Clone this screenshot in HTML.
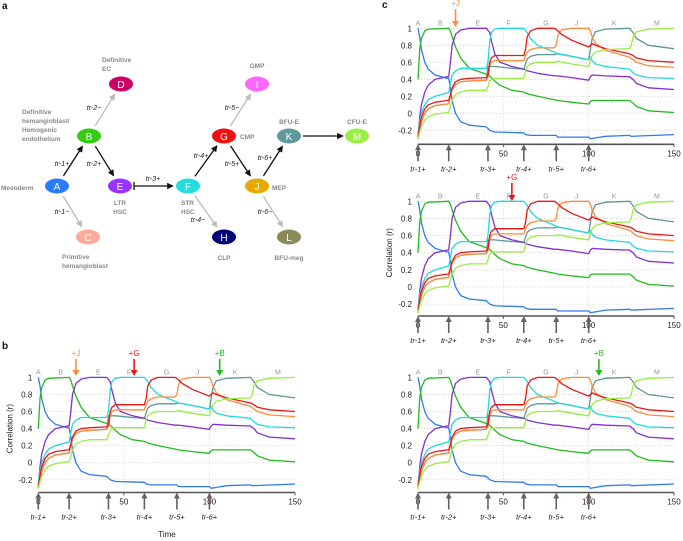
<!DOCTYPE html>
<html><head><meta charset="utf-8"><style>
body{margin:0;background:#fff;}
svg{display:block;font-family:"Liberation Sans",sans-serif;}
</style></head><body>
<svg id="fig" width="683" height="541" viewBox="0 0 683 541">
<defs>
<marker id="ah" viewBox="0 0 10 10" refX="9" refY="5" markerWidth="5" markerHeight="5" orient="auto"><path d="M0,0L10,5L0,10z" fill="#111"/></marker>
<marker id="ahg" viewBox="0 0 10 10" refX="9" refY="5" markerWidth="5" markerHeight="5" orient="auto"><path d="M0,0L10,5L0,10z" fill="#bbb"/></marker>
</defs>
<g id="diagram"></g>
<g id="charts"></g>
</svg>
<script>
// ---- chart data (time points and correlation values per cell type) ----
const tA=[0,1,2,4,6,10,17,18,19,20,22,25,30,40,41,42,45,62,63,66,81,82,100,101,104,110,124,125,150];
const vA=[1,0.9,0.75,0.6,0.52,0.45,0.41,0.41,0.3,0.15,0.0,-0.1,-0.14,-0.16,-0.18,-0.2,-0.22,-0.23,-0.25,-0.26,-0.26,-0.28,-0.28,-0.3,-0.29,-0.27,-0.26,-0.27,-0.25];
const tB=[0,1,2,4,6,18,19,20,22,25,30,40,42,45,48,55,62,64,70,80,82,90,100,101,102,124,126,128,135,150];
const vB=[0.4,0.75,0.88,0.97,0.99,1,0.97,0.9,0.78,0.65,0.53,0.46,0.44,0.38,0.33,0.27,0.25,0.23,0.2,0.16,0.15,0.13,0.11,0.14,0.15,0.15,0.12,0.08,0.03,0.01];
const tE=[0,1,2,4,6,10,17,18,19,20,22,25,30,40,42,43,45,48,55,62,64,70,80,82,90,100,101,102,110,124,126,128,135,150];
const vE=[-0.28,-0.05,0.1,0.25,0.33,0.4,0.43,0.43,0.6,0.8,0.93,0.98,1,1,0.95,0.85,0.7,0.6,0.55,0.52,0.5,0.47,0.44,0.44,0.42,0.39,0.43,0.45,0.44,0.43,0.4,0.35,0.3,0.28];
const tF=[0,1,2,4,6,10,17,18,19,20,22,25,40,41,42,43,45,48,62,64,66,70,80,82,90,100,101,102,104,110,124,126,128,135,150];
const vF=[-0.25,-0.1,0,0.1,0.16,0.2,0.24,0.24,0.35,0.45,0.5,0.53,0.53,0.6,0.85,0.95,0.99,1,1,0.95,0.88,0.8,0.72,0.7,0.67,0.63,0.66,0.62,0.58,0.55,0.52,0.48,0.45,0.42,0.41];
const tG=[0,1,2,4,6,10,17,18,19,20,22,25,30,40,41,42,43,45,62,63,64,66,70,80,82,84,90,100,101,102,104,110,124,126,128,135,150];
const vG=[-0.27,-0.15,-0.05,0.05,0.1,0.13,0.15,0.15,0.22,0.3,0.37,0.4,0.41,0.42,0.45,0.6,0.65,0.68,0.68,0.75,0.9,0.97,1,1,0.97,0.93,0.86,0.78,0.8,0.82,0.8,0.76,0.7,0.68,0.65,0.62,0.6];
const tJ=[0,1,2,4,6,10,17,18,19,20,22,25,30,40,41,42,43,45,62,63,64,66,70,80,81,82,84,90,100,101,102,104,110,124,126,128,135,150];
const vJ=[-0.3,-0.18,-0.1,0,0.05,0.09,0.11,0.11,0.2,0.28,0.34,0.37,0.38,0.39,0.42,0.55,0.6,0.62,0.62,0.68,0.72,0.75,0.77,0.77,0.8,0.92,0.98,1,1,0.97,0.9,0.82,0.74,0.66,0.63,0.6,0.56,0.54];
const tK=[0,1,2,4,6,10,17,18,19,20,22,25,30,40,41,45,55,62,63,64,66,70,80,82,90,100,101,102,104,110,124,126,128,135,150];
const vK=[-0.3,-0.18,-0.1,0,0.05,0.09,0.11,0.11,0.2,0.28,0.34,0.37,0.38,0.39,0.55,0.55,0.53,0.52,0.58,0.64,0.67,0.69,0.69,0.7,0.67,0.63,0.75,0.88,0.96,0.99,1,0.95,0.88,0.8,0.76];
const tM=[0,1,2,4,6,10,17,18,19,20,22,25,30,40,41,42,43,45,62,63,64,66,70,80,82,90,100,101,102,104,110,124,125,126,128,135,150];
const vM=[-0.3,-0.22,-0.16,-0.08,-0.04,-0.01,0.01,0.01,0.08,0.15,0.22,0.25,0.27,0.27,0.32,0.38,0.4,0.41,0.41,0.5,0.55,0.58,0.6,0.6,0.61,0.58,0.55,0.62,0.68,0.72,0.75,0.76,0.8,0.9,0.96,0.99,1];
const xTicks=[0,50,100,150];
const yTicks=[1,0.8,0.6,0.4,0.2,0,-0.2];
const yTickLabels=["1","0.8","0.6","0.4","0.2","0","-0.2"];
const trTimes=[0,18,41,62,81,100];
const trLabels=["tr-1+","tr-2+","tr-3+","tr-4+","tr-5+","tr-6+"];
const stageLetters=["A","B","E","F","G","J","K","M"];
const stageTimes=[0,13,35,53,75,93,115,140];

const NS="http://www.w3.org/2000/svg";
function mk(tag,attrs,parent,txt){const e=document.createElementNS(NS,tag);for(const k in attrs)e.setAttribute(k,attrs[k]);if(txt!==undefined)e.textContent=txt;parent.appendChild(e);return e;}

const series=[
 {name:"series-k",t:tK,v:vK,c:"#5f9696"},
 {name:"series-a",t:tA,v:vA,c:"#2f7cf0"},
 {name:"series-b",t:tB,v:vB,c:"#22bb22"},
 {name:"series-e",t:tE,v:vE,c:"#8430d0"},
 {name:"series-f",t:tF,v:vF,c:"#22d8e0"},
 {name:"series-j",t:tJ,v:vJ,c:"#ff8c3a"},
 {name:"series-g",t:tG,v:vG,c:"#ee1515"},
 {name:"series-m",t:tM,v:vM,c:"#99ee44"}
];

function drawChart(cfg){
 const g=mk("g",{},document.getElementById("charts"));
 
 
 const xs=t=>cfg.x0+(cfg.x1-cfg.x0)*t/150;
 const ys=v=>cfg.yz-v*cfg.ppu;
 yTicks.forEach((v,i)=>{
  const l=mk("line",{x1:cfg.x0,x2:cfg.x1,y1:ys(v),y2:ys(v),stroke:"#ccc","stroke-dasharray":"1,2","stroke-width":0.8},g);
  
  
  const tx=mk("text",{x:cfg.x0-6,y:ys(v)+3,"font-size":8,"text-anchor":"end",fill:"#222"},g,yTickLabels[i]);
  
  
 });
 [50,100].forEach(t=>{mk("line",{x1:xs(t),x2:xs(t),y1:ys(1.02),y2:cfg.axisY,stroke:"#ccc","stroke-dasharray":"1,2","stroke-width":0.8},g);});
 stageLetters.forEach((s,i)=>{
  const tx=mk("text",{x:xs(stageTimes[i]),y:ys(1)-3,"font-size":7,"text-anchor":"middle",fill:"#999"},g,s);
  
  
 });
 series.forEach(s=>{
  let d="";s.t.forEach((t,i)=>{d+=(i?"L":"M")+xs(t).toFixed(1)+","+ys(s.v[i]).toFixed(1);});
  const p=mk("path",{d:d,fill:"none",stroke:s.c,"stroke-width":1.3,"stroke-linejoin":"round"},g);
  
  
 });
 const ax=mk("line",{x1:cfg.x0,x2:cfg.x1,y1:cfg.axisY,y2:cfg.axisY,stroke:"#555","stroke-width":1.6},g);
 
 
 xTicks.forEach(t=>{
  mk("line",{x1:xs(t),x2:xs(t),y1:cfg.axisY,y2:cfg.axisY+3,stroke:"#555"},g);
  const tx=mk("text",{x:xs(t),y:cfg.axisY+12,"font-size":8,"text-anchor":"middle",fill:"#222"},g,String(t));
  
  
 });
 trTimes.forEach((t,i)=>{
  const x=xs(t);
  mk("line",{x1:x,x2:x,y1:cfg.axisY+17,y2:cfg.axisY+4,stroke:"#6b5f5f","stroke-width":1.6},g);
  mk("path",{d:`M${x-3},${cfg.axisY+6}L${x},${cfg.axisY}L${x+3},${cfg.axisY+6}z`,fill:"#6b5f5f"},g);
  const tx=mk("text",{x:x,y:cfg.axisY+27,"font-size":7.5,"text-anchor":"middle","font-style":"italic",fill:"#222"},g,trLabels[i]);
  
  
 });
 if(cfg.ytitle){
  const tx=mk("text",{x:0,y:0,"font-size":8,"text-anchor":"middle",fill:"#222",transform:`translate(${cfg.x0-26},${ys(0.4)}) rotate(-90)`},g,"Correlation (r)");
  
  
 }
 (cfg.perturb||[]).forEach(p=>{
  const x=xs(p.t);
  const tx=mk("text",{x:x,y:p.ly,"font-size":8,"text-anchor":"middle",fill:p.c},g,p.label);
  
  
  mk("line",{x1:x,x2:x,y1:p.ly+3,y2:p.ay-5,stroke:p.c,"stroke-width":1.6},g);
  mk("path",{d:`M${x-3.5},${p.ay-6}L${x},${p.ay}L${x+3.5},${p.ay-6}z`,fill:p.c},g);
 });
}
drawChart({name:"chart-b",x0:38.3,x1:295,yz:462.7,ppu:85.3,axisY:492.5,ytitle:true,
 perturb:[{t:22,label:"+J",c:"#ff8c3a",ly:356,ay:376},{t:56,label:"+G",c:"#ee1515",ly:356,ay:376},{t:106,label:"+B",c:"#22bb22",ly:356,ay:376}]});
drawChart({name:"chart-c-top",x0:418,x1:674,yz:113.3,ppu:85,axisY:144.3,
 perturb:[{t:22,label:"+J",c:"#ff8c3a",ly:6,ay:27}]});
drawChart({name:"chart-c-middle",x0:418,x1:674,yz:287,ppu:85.7,axisY:316,ytitle:true,
 perturb:[{t:55,label:"+G",c:"#ee1515",ly:180,ay:201}]});
drawChart({name:"chart-c-bottom",x0:418,x1:674,yz:462.7,ppu:85.3,axisY:492.5,
 perturb:[{t:106,label:"+B",c:"#22bb22",ly:356,ay:376}]});

const fig=document.getElementById("fig");
[["a",2,9],["b",2,349],["c",382,8]].forEach(p=>{
 const tx=mk("text",{x:p[1],y:p[2],"font-size":10,"font-weight":"bold",fill:"#111"},fig,p[0]);
 
 
});
const tt=mk("text",{x:167,y:537,"font-size":8,"text-anchor":"middle",fill:"#222"},fig,"Time");



// ---- lineage diagram ----
const dg=document.getElementById("diagram");
const nodeIds=["A","B","C","D","E","F","G","H","I","J","K","L","M"];
const nodeX=[57,89,88,121,120,188,224,224,257,257,289,289,357];
const nodeY=[186,136,237,84,186,186,136,237,84,186,136,237,136];
const nodeC=["#2b7bff","#33cc11","#ffaa99","#cc0066","#9933ff","#22dddd","#ee1111","#000077","#ff66ff","#e8a800","#5f9a9a","#8a8a5a","#99ee44"];
const P={};nodeIds.forEach((n,i)=>P[n]=[nodeX[i],nodeY[i]]);
function edge(a,b,col,lbl,lx,ly){
 const [x1,y1]=P[a],[x2,y2]=P[b];const dx=x2-x1,dy=y2-y1,L=Math.hypot(dx,dy);
 const ux=dx/L,uy=dy/L;const r=Math.abs(dy)>0?12:15;
 const l=mk("line",{x1:x1+ux*r,y1:y1+uy*r,x2:x2-ux*r,y2:y2-uy*r,stroke:col,"stroke-width":1.3,"marker-end":col=="#111"?"url(#ah)":"url(#ahg)"},dg);
 
 
 if(lbl){mk("text",{x:lx,y:ly,"font-size":7,"font-style":"italic",fill:"#222","text-anchor":"middle"},dg,lbl);}
}
edge("A","B","#111","tr-1+",62,166);
edge("A","C","#bbb","tr-1−",62,214);
edge("B","D","#bbb","tr-2−",94,110);
edge("B","E","#111","tr-2+",94,166);
edge("F","G","#111","tr-4+",201,158);
edge("F","H","#bbb","tr-4−",198,222);
edge("G","I","#bbb","tr-5−",232,110);
edge("G","J","#111","tr-5+",232,166);
edge("J","K","#111","tr-6+",265,160);
edge("J","L","#bbb","tr-6−",265,214);
const ef=mk("line",{x1:134,y1:186,x2:173,y2:186,stroke:"#111","stroke-width":1.3,"marker-end":"url(#ah)"},dg);


mk("line",{x1:134,y1:182,x2:134,y2:190,stroke:"#111","stroke-width":1.3},dg);
mk("text",{x:153,y:181,"font-size":7,"font-style":"italic",fill:"#222","text-anchor":"middle"},dg,"tr-3+");
const km=mk("line",{x1:303,y1:136,x2:343,y2:136,stroke:"#111","stroke-width":1.3,"marker-end":"url(#ah)"},dg);


nodeIds.forEach((n,i)=>{
 const e=mk("ellipse",{cx:nodeX[i],cy:nodeY[i],rx:12,ry:7.5,fill:nodeC[i]},dg);
 
 
 mk("text",{x:nodeX[i],y:nodeY[i]+4,"font-size":10,fill:"#fff","text-anchor":"middle"},dg,n);
});
const dlabels=[
 ["Mesoderm",1,190,"start"],["Definitive",102,62,"start"],["EC",102,71,"start"],
 ["Definitive",22,114,"start"],["hemangioblast/",22,123,"start"],["Hemogenic",22,132,"start"],["endothelium",22,141,"start"],
 ["Primitive",62,259,"start"],["hemangioblast",62,268,"start"],
 ["LTR",120,205,"middle"],["HSC",120,214,"middle"],["STR",181,205,"start"],["HSC",181,214,"start"],
 ["CLP",224,260,"middle"],["GMP",257,68,"middle"],["CMP",240,139,"start"],["MEP",272,190,"start"],
 ["BFU-E",289,124,"middle"],["BFU-meg",289,260,"middle"],["CFU-E",357,124,"middle"]
];
dlabels.forEach(l=>{
 const tx=mk("text",{x:l[1],y:l[2],"font-size":6.5,"font-weight":"bold",fill:"#888","text-anchor":l[3]},dg,l[0]);
 
 
});
</script>
</body></html>
